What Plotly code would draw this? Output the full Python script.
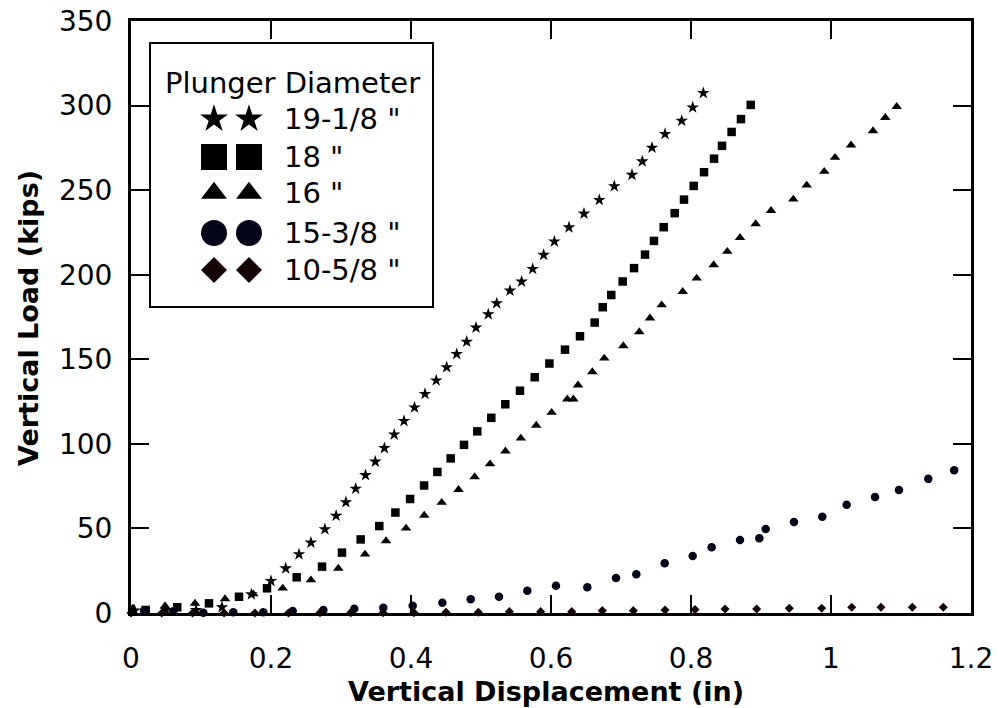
import plotly.graph_objects as go

# ---------------- data ----------------
star_x = [0.005, 0.05, 0.093, 0.13, 0.172, 0.200, 0.221, 0.240, 0.257, 0.277,
          0.293, 0.307, 0.321, 0.335, 0.349, 0.362, 0.376, 0.390, 0.405, 0.420, 0.436, 0.451,
          0.4653, 0.4796, 0.4929, 0.5104, 0.5224, 0.5414, 0.558, 0.5738, 0.5895, 0.6048,
          0.6257, 0.6471, 0.669, 0.6904, 0.7157, 0.7304, 0.7443, 0.7629, 0.7867, 0.8024, 0.8176]
star_y = [1.5, 1.8, 1.8, 3.4, 11.0, 18.9, 26.4, 34.7, 41.6, 49.5,
          57.5, 65.5, 73.5, 81.5, 89.5, 97.5, 105.5, 113.5, 121.5, 129.5, 137.5, 145.3,
          153.1, 160.4, 168.7, 176.6, 183.1, 190.6, 195.9, 203.4, 211.7, 219.6,
          228.0, 236.1, 244.2, 252.3, 259.0, 267.0, 275.1, 283.2, 291.0, 298.9, 307.4]

square_x = [0.021, 0.0661, 0.1114, 0.1543, 0.1943, 0.2367, 0.2729, 0.3014, 0.3281, 0.3547,
            0.3777, 0.3987, 0.4187, 0.4377, 0.4567, 0.4757, 0.4947, 0.5147, 0.5347, 0.5557,
            0.5767, 0.5977,
            0.62, 0.6414, 0.6624, 0.6739, 0.6861, 0.7024, 0.7186, 0.7343, 0.7471, 0.761,
            0.7767, 0.79, 0.8039, 0.8186, 0.8329, 0.8443, 0.858, 0.8714, 0.8853]
square_y = [1.8, 3.4, 5.7, 9.6, 14.6, 21.1, 27.4, 35.7, 43.5, 51.4,
            59.4, 67.4, 75.4, 83.4, 91.4, 99.4, 107.4, 115.4, 123.4, 131.4,
            139.4, 147.5,
            155.7, 163.6, 171.7, 180.8, 188.0, 196.0, 203.9, 211.9, 220.0, 228.1,
            236.4, 244.4, 252.5, 260.6, 268.6, 276.2, 284.4, 292.0, 300.4]

tri_x = [0.0024, 0.0486, 0.0914, 0.1343, 0.1747, 0.2167, 0.2571, 0.2961, 0.3343, 0.3643, 0.3929,
         0.4189, 0.4439, 0.4679, 0.4909, 0.5129, 0.5349, 0.5569, 0.5789, 0.6009,
         0.6233, 0.6319, 0.6386, 0.659, 0.6761, 0.7033, 0.7261, 0.7414, 0.7581, 0.7881, 0.8081,
         0.8324, 0.8519, 0.87, 0.8924, 0.9143, 0.9461, 0.9653, 0.9904, 1.0057, 1.0286, 1.06,
         1.0776, 1.0939]
tri_y = [2.8, 4.1, 5.7, 8.3, 11.2, 14.6, 19.5, 26.4, 34.7, 42.6, 50.1,
         57.7, 65.3, 72.9, 80.5, 88.1, 95.7, 103.3, 110.9, 118.5,
         126.4, 126.4, 134.7, 142.5, 150.6, 157.9, 166.2, 174.3, 182.1, 190.0, 197.9,
         205.8, 213.7, 221.9, 230.0, 237.9, 244.6, 252.9, 261.0, 269.3, 276.6, 285.0,
         292.9, 299.4]

circ_x = [0.0186, 0.0605, 0.1033, 0.1461, 0.189, 0.231, 0.2748, 0.319, 0.3604, 0.4024,
          0.4448, 0.4853, 0.5257, 0.5662, 0.6071, 0.6519, 0.6929, 0.7219, 0.7624, 0.8024,
          0.8295, 0.87, 0.8976, 0.9067, 0.9471, 0.9876, 1.0224, 1.0629, 1.0971,
          1.139, 1.176]
circ_y = [1.4, 1.0, 0.2, 0.4, 0.4, 1.2, 1.8, 2.5, 3.1, 4.3,
          6.1, 8.1, 9.6, 13.2, 16.1, 15.2, 20.7, 22.9, 29.4, 33.7,
          38.9, 43.2, 44.2, 49.7, 53.8, 56.9, 64.0, 68.6, 72.7,
          79.3, 84.4]

diam_x = [0.0, 0.044, 0.088, 0.133, 0.177, 0.225, 0.27, 0.314, 0.36, 0.4043,
          0.45, 0.4962, 0.5405, 0.5852, 0.6296, 0.6733, 0.7176, 0.7629, 0.8057,
          0.8486, 0.8938, 0.9404, 0.9867, 1.0296, 1.0714, 1.1162, 1.1604]
diam_y = [0.0, 0.0, 0.0, 0.0, 0.0, 0.0, 0.2, 0.2, 0.2, 0.2,
          0.4, 0.4, 0.8, 0.8, 0.8, 1.4, 1.4, 1.8, 2.0,
          2.4, 2.4, 2.8, 2.8, 3.4, 3.4, 3.4, 3.4]

series_names = ['19-1/8 "', '18 "', '16 "', '15-3/8 "', '10-5/8 "']
x_ticks = [0, 0.2, 0.4, 0.6, 0.8, 1.0, 1.2]
x_tick_text = ["0", "0.2", "0.4", "0.6", "0.8", "1", "1.2"]
y_ticks = [0, 50, 100, 150, 200, 250, 300, 350]

# ---------------- styling ----------------
FONT = "DejaVu Sans"
symbols = ["star", "square", "triangle-up", "circle", "diamond"]
colors = ["#000000", "#000000", "#000000", "#03041a", "#140406"]
sizes = [9.5, 8.5, 9.2, 8.5, 7]
legend_sizes = [21, 26, 22.5, 26, 20]

xs = [star_x, square_x, tri_x, circ_x, diam_x]
ys = [star_y, square_y, tri_y, circ_y, diam_y]

fig = go.Figure()
for name, x, y, sym, col, sz in zip(series_names, xs, ys, symbols, colors, sizes):
    fig.add_trace(go.Scatter(
        x=x, y=y, mode="markers", name=name, showlegend=False, cliponaxis=False,
        marker=dict(symbol=sym, size=sz, color=col, line=dict(width=0)),
        hoverinfo="x+y"))

# ---------------- legend (drawn in pixel space on an overlay axis) ----------------
W, H = 998, 708
L, R, T, B = 131, 971, 21, 613
leg_rows = [119, 157, 193, 233, 270]
leg_mx = [214, 249]
for name, sym, col, lsz, ry in zip(series_names, symbols, colors, legend_sizes, leg_rows):
    fig.add_trace(go.Scatter(
        x=leg_mx, y=[ry, ry], xaxis="x2", yaxis="y2", mode="markers",
        showlegend=False, hoverinfo="skip", cliponaxis=False,
        marker=dict(symbol=sym, size=lsz, color=col, line=dict(width=0))))

annotations = [
    dict(text="Plunger Diameter", x=292, y=83, xref="x2", yref="y2",
         xanchor="center", yanchor="middle", showarrow=False,
         font=dict(family=FONT, size=29, color="black")),
]
for name, ry in zip(series_names, leg_rows):
    annotations.append(dict(text=name, x=282, y=ry, xref="x2", yref="y2",
                            xanchor="left", yanchor="middle", showarrow=False,
                            font=dict(family=FONT, size=29, color="black")))


def px2paper_x(px):
    return (px - L) / (R - L)


def px2paper_y(py):
    return (B - py) / (B - T)


# axis titles
annotations.append(dict(text="<b>Vertical Displacement (in)</b>",
                        x=px2paper_x(546), y=px2paper_y(691),
                        xref="paper", yref="paper", xanchor="center", yanchor="middle",
                        showarrow=False, font=dict(family=FONT, size=27, color="black")))
annotations.append(dict(text="<b>Vertical Load (kips)</b>",
                        x=px2paper_x(28), y=px2paper_y(318),
                        xref="paper", yref="paper", xanchor="center", yanchor="middle",
                        textangle=-90, showarrow=False,
                        font=dict(family=FONT, size=27, color="black")))

shapes = [dict(type="rect", xref="x2", yref="y2", x0=150, x1=433, y0=43, y1=307,
               line=dict(color="black", width=2), fillcolor="white", layer="below")]

axis_common = dict(showline=True, linewidth=3, linecolor="black", mirror="ticks",
                   ticks="inside", ticklen=18, tickwidth=1.5, tickcolor="black",
                   showgrid=False, zeroline=False,
                   tickfont=dict(family=FONT, size=28, color="black"))

fig.update_layout(
    width=W, height=H,
    margin=dict(l=L, r=W - R, t=T, b=H - B, autoexpand=False),
    paper_bgcolor="white", plot_bgcolor="white",
    showlegend=False,
    xaxis=dict(range=[0, 1.2], tickvals=x_ticks, ticktext=x_tick_text,
               ticklabelstandoff=18, **axis_common),
    yaxis=dict(range=[0, 350], tickvals=y_ticks, ticklabelstandoff=10, **axis_common),
    xaxis2=dict(overlaying="x", anchor="y2", range=[L, R], visible=False, fixedrange=True),
    yaxis2=dict(overlaying="y", anchor="x2", range=[B, T], visible=False, fixedrange=True),
    annotations=annotations,
    shapes=shapes,
)

fig.write_html("out.html", config={"displayModeBar": False},
               post_script="document.body.style.margin='0';document.body.style.overflow='hidden';")
